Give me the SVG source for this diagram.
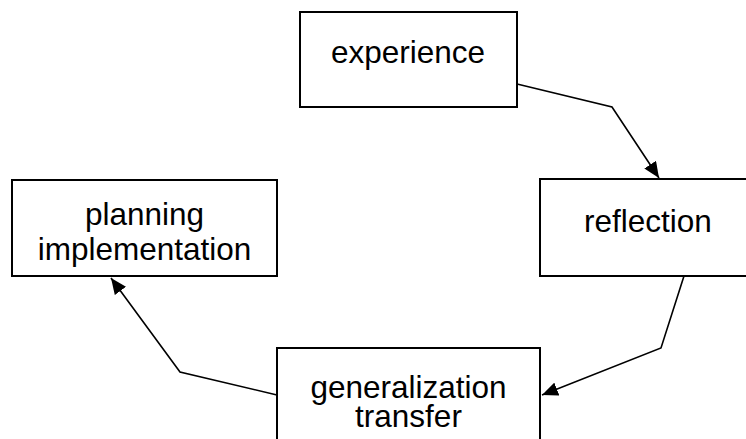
<svg xmlns="http://www.w3.org/2000/svg" width="746" height="439" viewBox="0 0 746 439">
<style>
.box{fill:#fff;stroke:#000;stroke-width:2}
.lbl{font-family:"Liberation Sans",Arial,sans-serif;font-size:31.5px;fill:#000;text-anchor:middle}
.con{fill:none;stroke:#000;stroke-width:1.6;marker-end:url(#ah)}
</style>
<defs>
<marker id="ah" markerUnits="userSpaceOnUse" markerWidth="18" markerHeight="14" refX="16" refY="7" orient="auto">
<path d="M0,0 L16,7 L0,14 Z" fill="#000"/>
</marker>
</defs>
<rect width="746" height="439" fill="#fff"/>
<g id="connectors">
<polyline class="con" points="517,84 612,107 659,178"/>
<polyline class="con" points="684,276 661,348 542,395"/>
<polyline class="con" points="277,395 180,372 111,278"/>
</g>
<g id="experience">
<rect class="box" x="300" y="12" width="217" height="95"/>
<text class="lbl" x="408" y="63">experience</text>
</g>
<g id="reflection">
<rect class="box" x="540" y="179" width="230" height="97"/>
<text class="lbl" x="648" y="232">reflection</text>
</g>
<g id="generalization">
<rect class="box" x="277" y="348" width="263" height="110"/>
<text class="lbl" x="408.5" y="398">generalization</text>
<text class="lbl" x="408.5" y="427">transfer</text>
</g>
<g id="planning">
<rect class="box" x="12" y="180" width="265" height="96"/>
<text class="lbl" x="144.5" y="225">planning</text>
<text class="lbl" x="144.5" y="260">implementation</text>
</g>
</svg>
